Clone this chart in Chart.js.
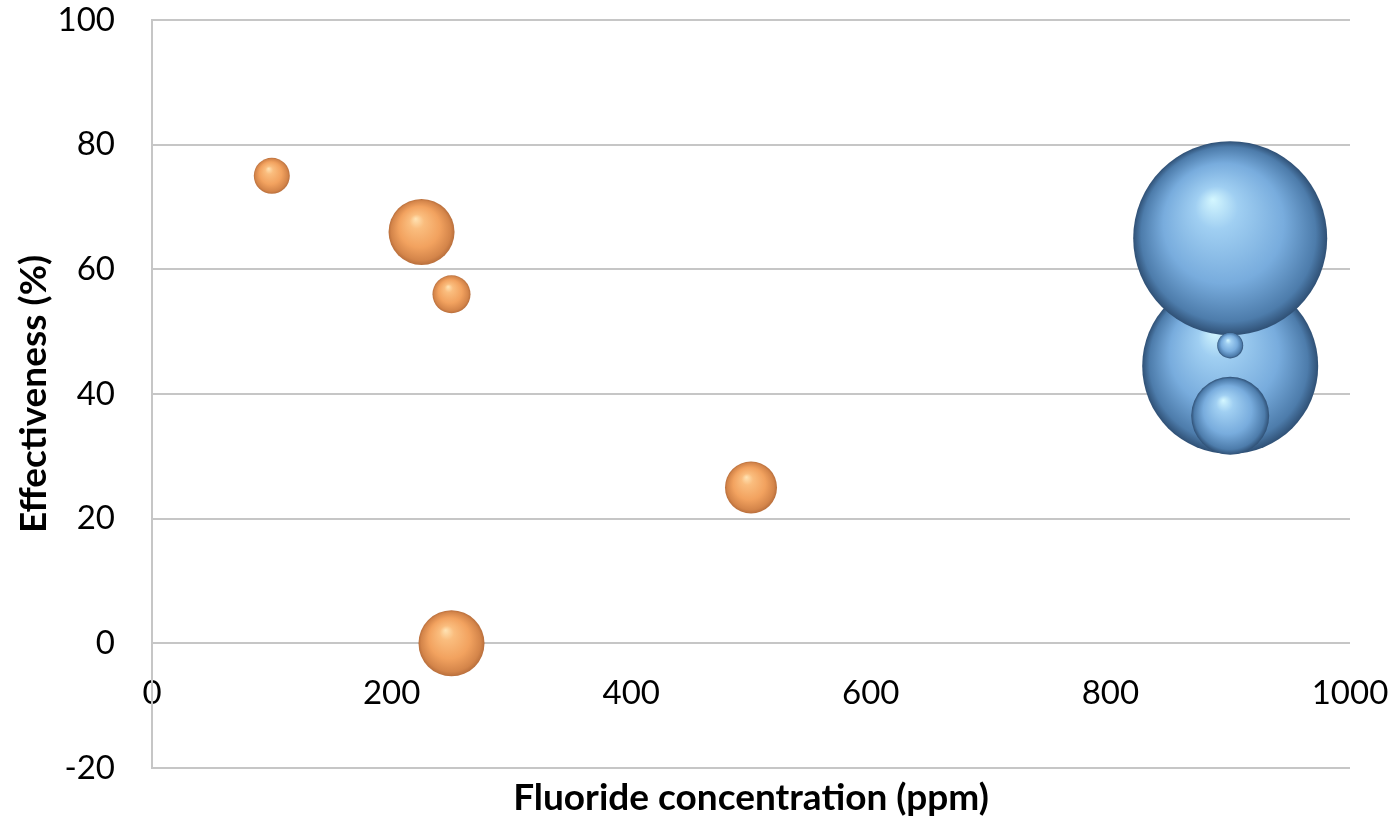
<!DOCTYPE html>
<html>
<head>
<meta charset="utf-8">
<script src="https://cdn.jsdelivr.net/npm/chart.js@4"></script>
<style>
  html, body { margin: 0; padding: 0; background: #fff; }
  #wrap { width: 1394px; height: 820px; }
</style>
</head>
<body>
<div id="wrap"><canvas id="bubbleChart"></canvas></div>
<script>
// values
const orangeX = [100, 225, 250, 500, 250];
const orangeY = [75, 66, 56, 25, 0];
const orangeR = [18, 33, 19, 26, 33];

// drawn in this order so the upper big bubble sits in front of the lower one
const blueX = [900, 900, 900, 900];
const blueY = [44.5, 65, 47.8, 36.5];
const blueR = [88, 97, 13, 39];

const xTicks = [0, 200, 400, 600, 800, 1000];
const yTicks = [-20, 0, 20, 40, 60, 80, 100];

const xTitle = 'Fluoride concentration (ppm)';
const yTitle = 'Effectiveness (%)';

const toPoints = (xs, ys, rs) => xs.map((x, i) => ({ x: x, y: ys[i], r: rs[i] }));

// shiny sphere look: radial gradient with highlight up and to the left
const sphere = (stops) => (context) => {
  const chart = context.chart;
  const raw = context.raw;
  const flat = stops[2][1];
  if (!raw || !chart.scales || !chart.scales.x || !chart.scales.y) return flat;
  const cx = chart.scales.x.getPixelForValue(raw.x);
  const cy = chart.scales.y.getPixelForValue(raw.y);
  const r = raw.r;
  if (!isFinite(cx) || !isFinite(cy) || !isFinite(r)) return flat;
  const g = chart.ctx.createRadialGradient(cx - r * 0.18, cy - r * 0.4, 0, cx, cy, r);
  stops.forEach(s => g.addColorStop(s[0], s[1]));
  return g;
};

const orangeStops = [[0, '#ffe3b4'], [0.22, '#fabd7e'], [0.62, '#f2a25f'], [0.9, '#d4854a'], [1, '#b96f3c']];
const blueStops = [[0, '#d4f7ff'], [0.22, '#a0cff2'], [0.62, '#78acdd'], [0.9, '#4d7cab'], [1, '#2f5075']];

const ctx = document.getElementById('bubbleChart').getContext('2d');
Chart.defaults.font.family = 'Lato';
Chart.defaults.color = '#000';

const gridGrey = '#c6c6c6';

// stop the scales from reserving room for overhanging tick labels
const noEdgePadding = (scale) => {
  scale.paddingTop = 0;
  scale.paddingBottom = 0;
  scale.paddingLeft = 0;
  scale.paddingRight = 0;
};

const fluorideChart = new Chart(ctx, {
  type: 'bubble',
  data: {
    datasets: [
      {
        label: 'Series 1',
        data: toPoints(orangeX, orangeY, orangeR),
        backgroundColor: sphere(orangeStops),
        borderWidth: 0,
        hoverBorderWidth: 0,
        hoverRadius: 0,
        clip: false
      },
      {
        label: 'Series 2',
        data: toPoints(blueX, blueY, blueR),
        backgroundColor: sphere(blueStops),
        borderWidth: 0,
        hoverBorderWidth: 0,
        hoverRadius: 0,
        clip: false
      }
    ]
  },
  options: {
    responsive: true,
    maintainAspectRatio: false,
    animation: false,
    events: [],
    layout: { autoPadding: false, padding: { top: 20, right: 44, bottom: 0, left: 8 } },
    plugins: {
      legend: { display: false },
      tooltip: { enabled: false }
    },
    scales: {
      x: {
        type: 'linear',
        position: { y: 0 },
        min: 0,
        max: 1000,
        afterBuildTicks: (scale) => { scale.ticks = xTicks.map(v => ({ value: v })); },
        afterFit: noEdgePadding,
        grid: { display: false, drawTicks: false },
        border: { display: false },
        ticks: { font: { size: 33 }, padding: 30, color: '#000', callback: (v) => String(v) }
      },
      xTitleAxis: {
        type: 'linear',
        position: 'bottom',
        afterFit: (scale) => { scale.height = 52; noEdgePadding(scale); },
        grid: { display: false, drawTicks: false },
        border: { display: false },
        ticks: { display: false },
        title: {
          display: true,
          text: xTitle,
          font: { size: 37, weight: 'bold' },
          padding: { top: 0, bottom: 0 },
          color: '#000'
        }
      },
      y: {
        type: 'linear',
        min: -20,
        max: 100,
        afterBuildTicks: (scale) => { scale.ticks = yTicks.map(v => ({ value: v })); },
        afterFit: (scale) => { scale.width = 144; noEdgePadding(scale); },
        grid: { color: gridGrey, lineWidth: 2, drawTicks: false },
        border: { display: true, color: gridGrey, width: 2 },
        ticks: { font: { size: 33 }, padding: 37, color: '#000', callback: (v) => String(v) },
        title: {
          display: true,
          text: yTitle,
          font: { size: 37, weight: 'bold' },
          padding: { top: 4, bottom: 4 },
          color: '#000'
        }
      }
    }
  }
});
</script>
</body>
</html>
